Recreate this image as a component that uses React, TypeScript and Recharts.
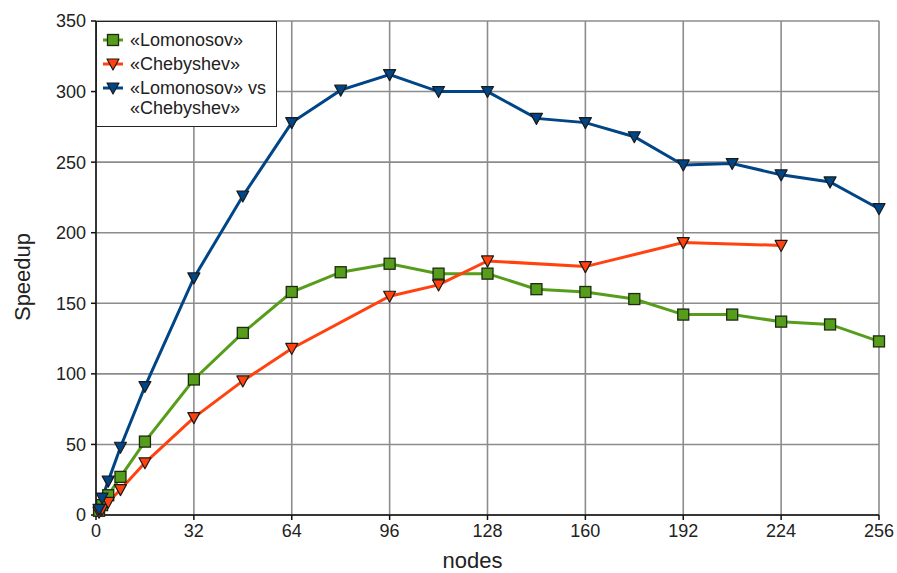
import { CartesianGrid, Legend, Line, LineChart, XAxis, YAxis } from "recharts";

const lomonosovNodes = [1, 2, 4, 8, 16, 32, 48, 64, 80, 96, 112, 128, 144, 160, 176, 192, 208, 224, 240, 256];
const lomonosovSpeedup = [3, 7, 14, 27, 52, 96, 129, 158, 172, 178, 171, 171, 160, 158, 153, 142, 142, 137, 135, 123];

const chebyshevNodes = [1, 2, 4, 8, 16, 32, 48, 64, 96, 112, 128, 160, 192, 224];
const chebyshevSpeedup = [2, 4, 9, 18, 37, 69, 95, 118, 155, 163, 180, 176, 193, 191];

const crossNodes = [1, 2, 4, 8, 16, 32, 48, 64, 80, 96, 112, 128, 144, 160, 176, 192, 208, 224, 240, 256];
const crossSpeedup = [4, 12, 24, 48, 91, 168, 226, 278, 301, 312, 300, 300, 281, 278, 268, 248, 249, 241, 236, 217];

const xTicks = [0, 32, 64, 96, 128, 160, 192, 224, 256];
const yTicks = [0, 50, 100, 150, 200, 250, 300, 350];

const toRows = (nodes: number[], values: number[]) => nodes.map((n, i) => ({ nodes: n, speedup: values[i] }));

const series = [
  { name: "«Lomonosov»", color: "#579d1c", marker: "square", data: toRows(lomonosovNodes, lomonosovSpeedup) },
  { name: "«Chebyshev»", color: "#ff420e", marker: "triangle", data: toRows(chebyshevNodes, chebyshevSpeedup) },
  { name: "«Lomonosov» vs «Chebyshev»", color: "#004586", marker: "triangle", data: toRows(crossNodes, crossSpeedup) },
];

const font = "'Liberation Sans', Arial, sans-serif";

const Marker = ({ cx, cy, color, marker }: { cx: number; cy: number; color: string; marker: string }) => {
  if (marker === "square") {
    return <rect x={cx - 5.5} y={cy - 5.5} width={11} height={11} fill={color} stroke="#1c2a10" strokeWidth={1.3} />;
  }
  return (
    <path
      d={`M${cx - 6},${cy - 5} L${cx + 6},${cy - 5} L${cx},${cy + 6} Z`}
      fill={color}
      stroke="#1a1a1a"
      strokeWidth={1.2}
      strokeLinejoin="round"
    />
  );
};

const LegendBox = () => (
  <div
    style={{
      width: 181,
      height: 106,
      boxSizing: "border-box",
      border: "1.5px solid #222",
      background: "#fff",
      fontFamily: font,
      fontSize: 18,
      color: "#222",
      paddingTop: 8,
      textAlign: "left",
      whiteSpace: "nowrap",
    }}
  >
    {series.map((s) => {
      const lines = s.name === "«Lomonosov» vs «Chebyshev»" ? ["«Lomonosov» vs", "«Chebyshev»"] : [s.name];
      return (
        <div key={s.name} style={{ display: "flex", alignItems: "flex-start", lineHeight: "20px", marginBottom: 4 }}>
          <svg width={30} height={20} style={{ flex: "none" }}>
            <line x1={6} y1={10} x2={26} y2={10} stroke={s.color} strokeWidth={3} />
            <Marker cx={16} cy={10} color={s.color} marker={s.marker} />
          </svg>
          <div style={{ marginLeft: 3 }}>
            {lines.map((l) => (
              <div key={l}>{l}</div>
            ))}
          </div>
        </div>
      );
    })}
  </div>
);

export default function App() {
  return (
    <div style={{ position: "absolute", left: 0, top: 0, background: "#fff" }}>
      <LineChart width={897} height={573} margin={{ top: 21, right: 18, left: 10, bottom: 0 }}>
        <CartesianGrid stroke="#8c8c8c" strokeWidth={1.6} />
        <XAxis
          dataKey="nodes"
          type="number"
          domain={[0, 256]}
          ticks={xTicks}
          allowDuplicatedCategory={false}
          height={58}
          tickSize={5}
          tickMargin={4}
          stroke="#111"
          strokeWidth={1.5}
          tick={{ fill: "#222", fontSize: 18, fontFamily: font }}
          label={{ value: "nodes", position: "insideBottom", offset: 5, dx: -15, style: { fill: "#222", fontSize: 22, fontFamily: font } }}
        />
        <YAxis
          type="number"
          domain={[0, 350]}
          ticks={yTicks}
          width={86}
          tickSize={5}
          tickMargin={5}
          stroke="#111"
          strokeWidth={1.5}
          tick={{ fill: "#222", fontSize: 18, fontFamily: font }}
          label={{
            value: "Speedup",
            angle: -90,
            position: "insideLeft",
            offset: 12,
            dy: 9,
            style: { textAnchor: "middle", fill: "#222", fontSize: 22, fontFamily: font },
          }}
        />
        <Legend
          verticalAlign="middle"
          align="center"
          layout="horizontal"
          wrapperStyle={{ left: 96, top: 21, width: 181 }}
          content={() => <LegendBox />}
        />
        {series.map((s) => (
          <Line
            key={s.name}
            data={s.data}
            dataKey="speedup"
            name={s.name}
            stroke={s.color}
            strokeWidth={3}
            isAnimationActive={false}
            dot={(p: any) => <Marker key={`${s.name}-${p.index}`} cx={p.cx} cy={p.cy} color={s.color} marker={s.marker} />}
            activeDot={false}
          />
        ))}
      </LineChart>
    </div>
  );
}
